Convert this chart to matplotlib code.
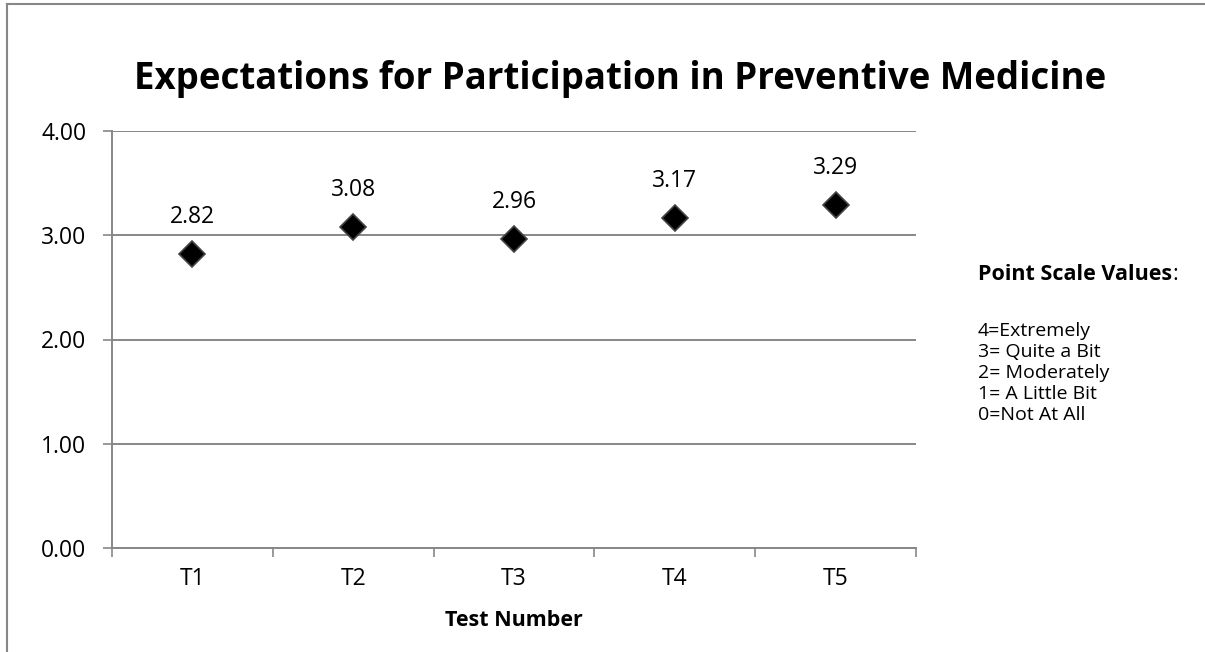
import matplotlib
matplotlib.use("Agg")
import matplotlib.pyplot as plt
from matplotlib.lines import Line2D

# ── data ──
tests  = ["T1", "T2", "T3", "T4", "T5"]
means  = [2.82, 3.08, 2.96, 3.17, 3.29]
yticks = [0.0, 1.0, 2.0, 3.0, 4.0]
scale_lines = ["4=Extremely", "3= Quite a Bit", "2= Moderately",
               "1= A Little Bit", "0=Not At All"]

FONT = "Open Sans"
GRID = "#878787"
FS = 16.5
plt.rcParams["font.family"] = [FONT, "DejaVu Sans"]

W, H = 1205, 652
fig = plt.figure(figsize=(W / 100, H / 100), dpi=100)

# outer chart frame (left + top edges visible)
fig.add_artist(Line2D([7 / W, 7 / W], [0, 1 - 4 / H], color=GRID, lw=1.5,
                      transform=fig.transFigure))
fig.add_artist(Line2D([7 / W, 1], [1 - 4 / H, 1 - 4 / H], color=GRID, lw=1.5,
                      transform=fig.transFigure))

ax = fig.add_axes([112 / W, 1 - 548 / H, (916 - 112) / W, (548 - 131) / H])
xs = list(range(len(tests)))
ax.plot(xs, means, linestyle="none", marker="D", markersize=13.5,
        markerfacecolor="black", markeredgecolor="#444444", markeredgewidth=1.2,
        zorder=3)
for x, v in zip(xs, means):
    ax.annotate(f"{v:.2f}", (x, v), xytext=(0, 18), textcoords="offset points",
                ha="center", va="bottom", fontsize=FS)

ax.set_xlim(-0.5, len(tests) - 0.5)
ax.set_ylim(0, 4)
ax.set_yticks(yticks)
ax.set_yticklabels([f"{t:.2f}" for t in yticks], fontsize=FS)
ax.set_xticks(xs)
ax.set_xticklabels(tests, fontsize=FS)
ax.set_xticks([i - 0.5 for i in range(len(tests) + 1)], minor=True)
ax.tick_params(axis="x", which="major", length=0, pad=14)
ax.tick_params(axis="x", which="minor", length=6.5, width=1.2, color=GRID)
ax.tick_params(axis="y", length=6.5, width=1.2, color=GRID, pad=12)

ax.grid(True, axis="y", color=GRID, linewidth=1.4)
ax.set_axisbelow(True)
for s in ("top", "right"):
    ax.spines[s].set_visible(False)
for s in ("left", "bottom"):
    ax.spines[s].set_color(GRID)
    ax.spines[s].set_linewidth(1.4)

ax.set_xlabel("Test Number", fontsize=FS - 1, fontweight="bold", labelpad=13)

fig.text(620 / W, 1 - 79 / H, "Expectations for Participation in Preventive Medicine",
         ha="center", va="center", fontsize=26.4, fontweight="bold")

# side note: point scale legend, baselines about 21px apart
head = fig.text(978 / W, 1 - 280 / H, "Point Scale Values", ha="left",
                va="baseline", fontsize=15.5, fontweight="bold")
fig.canvas.draw()
bb = head.get_window_extent()
fig.text(bb.x1 / W, 1 - 280 / H, ":", ha="left", va="baseline", fontsize=15.5)
for i, line in enumerate(scale_lines):
    fig.text(978 / W, 1 - (336 + 21 * i) / H, line, ha="left", va="baseline",
             fontsize=14)

fig.savefig("out.png", dpi=100)
